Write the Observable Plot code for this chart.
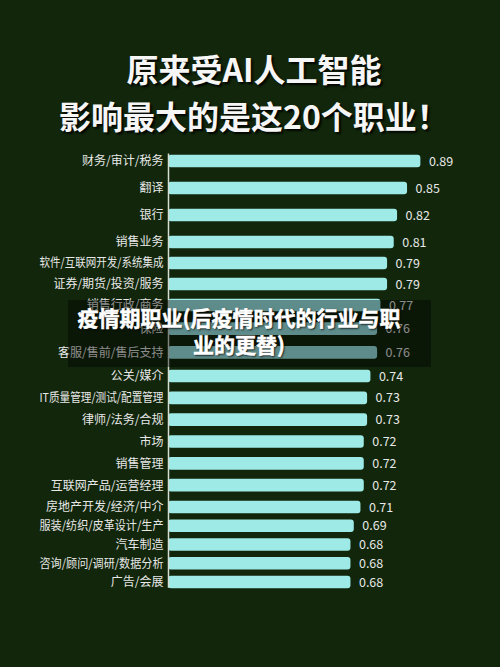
<!DOCTYPE html>
<html>
<head>
<meta charset="utf-8">
<script src="https://cdn.jsdelivr.net/npm/d3@7"></script>
<script src="https://cdn.jsdelivr.net/npm/@observablehq/plot@0.6"></script>
<style>
  html, body { margin: 0; padding: 0; background: #11260a; }
  #wrap { position: relative; width: 500px; height: 667px; background: #11260a; overflow: hidden;
          font-family: "Noto Sans CJK SC", "Noto Sans", sans-serif; }
  #chart { position: absolute; left: 0; top: 0; }
  #title { position: absolute; left: 0; top: 45px; width: 500px; text-align: center;
           color: #f6f6f6; font-size: 32px; font-weight: 700; line-height: 47px;
           text-shadow: 2px 2px 2px rgba(0,0,0,0.85); padding-left: 8px; box-sizing: border-box; }
  #banner { position: absolute; left: 68px; top: 300px; width: 363px; height: 67px;
            background: rgba(0,0,0,0.4); }
  #bannerText { position: absolute; left: 54px; top: 304px; width: 370px; text-align: center;
                color: #ffffff; font-size: 21px; font-weight: 700; line-height: 27px;
                -webkit-text-stroke: 0.5px #ffffff;
                text-shadow: 1px 1px 2px rgba(0,0,0,0.9); }
</style>
</head>
<body>
<div id="wrap">
  <div id="chart"></div>
  <div id="title"></div>
  <div id="banner"></div>
  <div id="bannerText"></div>
</div>
<script>
const titleLines = ["原来受AI人工智能", "影响最大的是这20个职业！"];
const bannerLines = ["疫情期职业(后疫情时代的行业与职", "业的更替)"];

const categories = [
  "财务/审计/税务", "翻译", "银行", "销售业务", "软件/互联网开发/系统集成",
  "证券/期货/投资/服务", "销售行政/商务", "保险", "客服/售前/售后支持", "公关/媒介",
  "IT质量管理/测试/配置管理", "律师/法务/合规", "市场", "销售管理", "互联网产品/运营经理",
  "房地产开发/经济/中介", "服装/纺织/皮革设计/生产", "汽车制造", "咨询/顾问/调研/数据分析", "广告/会展"
];
const values = [0.89, 0.85, 0.82, 0.81, 0.79, 0.79, 0.77, 0.76, 0.76, 0.74,
                0.73, 0.73, 0.72, 0.72, 0.72, 0.71, 0.69, 0.68, 0.68, 0.68];
const xDomain = [0.132, 1];

const data = categories.map((name, i) => ({name, value: values[i], rank: i + 1}));

document.getElementById("title").innerHTML = titleLines.join("<br>");
document.getElementById("bannerText").innerHTML = bannerLines.join("<br>");

const chart = Plot.plot({
  width: 500,
  height: 667,
  marginTop: 145,
  marginBottom: 70,
  marginLeft: 168,
  marginRight: 43,
  style: {background: "transparent", color: "#e8e8e8", fontSize: "12px",
          fontFamily: "'Noto Sans CJK SC', 'Noto Sans', sans-serif"},
  x: {domain: xDomain, axis: null},
  // the reference rows are unevenly spaced (stretched image): piecewise rank scale
  y: {type: "linear", domain: [1, 4, 7, 10, 16, 20], range: [161, 242, 305, 376, 507, 582], axis: null},
  marks: [
    Plot.rectX(data, {x1: xDomain[0], x2: "value", y1: "rank", y2: "rank",
                      insetTop: -6.3, insetBottom: -6.3, fill: "#9deae6", rx: 3}),
    Plot.ruleX([xDomain[0]], {y1: 0.72, y2: 20.3, stroke: "#d5ddd2", strokeWidth: 1.5}),
    Plot.text(data, {x: "value", y: "rank", text: d => d.value.toFixed(2), textAnchor: "start",
                     dx: 8, fill: "#e8e8e8", fontSize: 12.5}),
    Plot.text(data, {x: xDomain[0], y: "rank", text: "name", textAnchor: "end",
                     dx: -5, fill: "#e8e8e8", fontSize: 12, className: "rowlabel"})
  ]
});
document.getElementById("chart").appendChild(chart);

// the reference squeezes its longest row labels into ~124px
d3.select(chart).selectAll(".rowlabel text").each(function() {
  const w = this.getComputedTextLength();
  if (w > 124) {
    this.setAttribute("textLength", 124);
    this.setAttribute("lengthAdjust", "spacingAndGlyphs");
  }
});
</script>
</body>
</html>
